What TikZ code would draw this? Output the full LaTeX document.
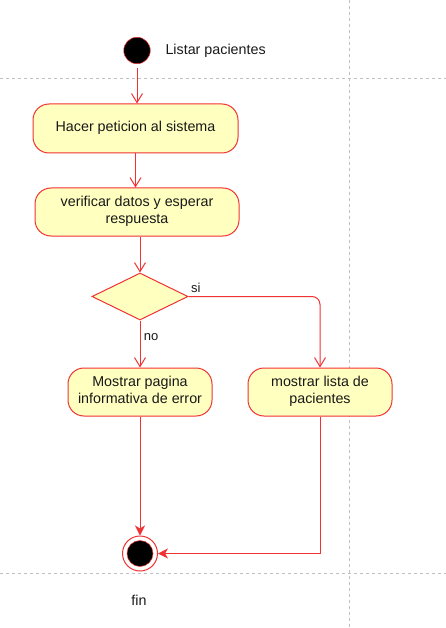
\documentclass[tikz,border=0pt]{standalone}
\usepackage{fontspec}
\setmainfont{Liberation Sans}
\usetikzlibrary{arrows.meta,shapes.geometric}
\definecolor{umlred}{RGB}{240,50,50}
\definecolor{umlfill}{RGB}{255,255,192}
\definecolor{gridgray}{RGB}{192,192,192}
\definecolor{txt}{RGB}{25,25,25}
\tikzset{
  x=1pt,y=-1pt,
  every node/.style={font=\fontsize{14.3}{17}\selectfont, text=txt},
  action/.style={draw=umlred, fill=umlfill, rounded corners=16pt, line width=1pt, align=center, inner sep=0pt},
  decision/.style={draw=umlred, fill=umlfill, diamond, line width=1pt, minimum width=96pt, minimum height=47pt, inner sep=0pt, aspect=2},
  flow/.style={draw=umlred, line width=1pt, -{Straight Barb[length=9pt,width=11pt,line width=1pt]}},
  endflow/.style={draw=umlred, line width=1pt, -{Stealth[length=10pt,width=10pt,inset=3pt]}},
  lane/.style={draw=gridgray, line width=0.6pt, dash pattern=on 3pt off 3pt},
  lbl/.style={font=\fontsize{13}{15}\selectfont}
}
\begin{document}
\begin{tikzpicture}
\useasboundingbox (0,0) rectangle (446,628);
% lanes
\coordinate (hl1a) at (0,78); \coordinate (hl1b) at (446,78);
\coordinate (hl2a) at (0,573); \coordinate (hl2b) at (446,573);
\coordinate (vla) at (349,0); \coordinate (vlb) at (349,628);
\draw[lane] (hl1a) -- (hl1b);
\draw[lane] (hl2a) -- (hl2b);
\draw[lane] (vla) -- (vlb);
% start
\node[circle, fill=black, draw=umlred, line width=0.5pt, minimum size=26.5pt, inner sep=0pt] (start) at (137,50.5) {};
\node[anchor=west] (startlbl) at (162,51) {Listar pacientes};
% actions
\node[action, minimum width=205pt, minimum height=49pt, text depth=5pt, text height=12pt] (a1) at (135.5,128.5) {Hacer peticion al sistema};
\node[action, minimum width=204pt, minimum height=48pt] (a2) at (137,212) {\raisebox{-2pt}{\begin{tabular}{@{}c@{}}verificar datos y esperar\\respuesta\end{tabular}}};
\node[decision] (d) at (140,296.5) {};
\node[action, minimum width=144pt, minimum height=48pt] (a3) at (140,392) {\raisebox{-2pt}{\begin{tabular}{@{}c@{}}Mostrar pagina\\informativa de error\end{tabular}}};
\node[action, minimum width=144pt, minimum height=48pt] (a4) at (320,392) {\raisebox{-2pt}{\begin{tabular}{@{}c@{}}mostrar lista de\\pacientes\end{tabular}}};
% end
\node[circle, draw=umlred, fill=white, line width=1pt, minimum size=35pt, inner sep=0pt] (end) at (140,553.5) {};
\node[circle, fill=black, draw=umlred, line width=0.5pt, minimum size=26pt, inner sep=0pt] (endin) at (end.center) {};
\node (fin) at (139,600) {fin};
% flows
\draw[flow] ([yshift=-4pt]start.south) -- (a1.north -| start);
\draw[flow] (a1.south) -- (a2.north -| a1.south);
\draw[flow] (a2.south -| d.north) -- (d.north);
\draw[flow] (d.south) -- node[lbl, pos=0.36, anchor=west] (no) {no} (a3.north);
\draw[flow, rounded corners=8pt] (d.east) -- (d.east -| a4.north) -- (a4.north);
\node[lbl, anchor=south west] (si) at ([xshift=-1pt,yshift=0pt]d.east) {si};
\draw[endflow] (a3.south) -- (end.north);
\draw[endflow] (a4.south) -- (a4.south |- end) -- (end.east);
\end{tikzpicture}
\end{document}
